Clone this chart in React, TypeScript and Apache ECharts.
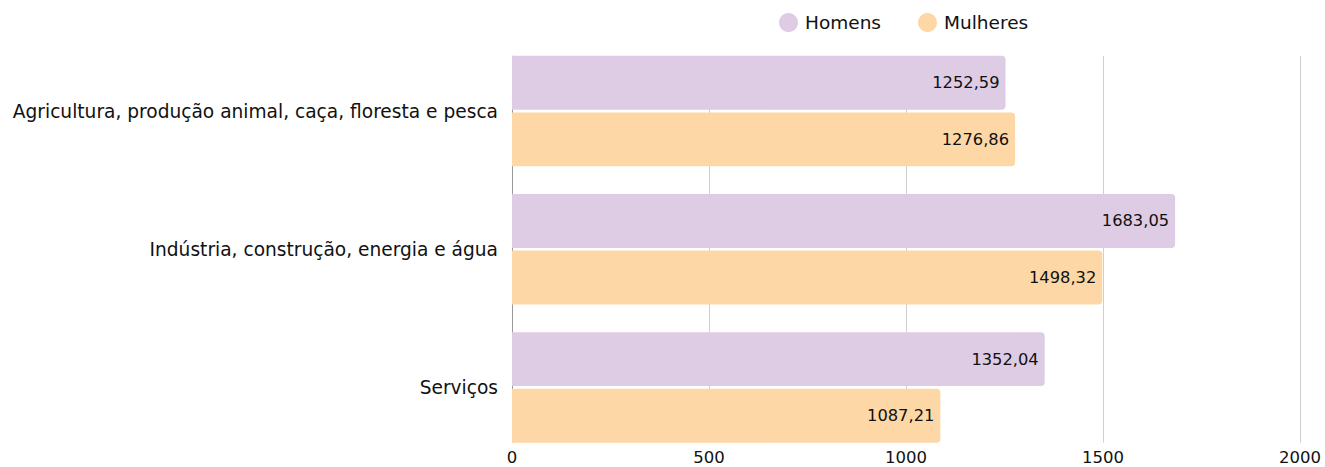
import React, { useEffect, useRef } from "react";
import * as echarts from "echarts";

const categories = [
  "Agricultura, produção animal, caça, floresta e pesca",
  "Indústria, construção, energia e água",
  "Serviços",
];
const homens = [1252.59, 1683.05, 1352.04];
const mulheres = [1276.86, 1498.32, 1087.21];
const xTicks = [0, 500, 1000, 1500, 2000];

const FONT = "DejaVu Sans";
const fmt = (v: number) => v.toFixed(2).replace(".", ",");

export default function App() {
  const ref = useRef<HTMLDivElement>(null);
  useEffect(() => {
    const chart = echarts.init(ref.current!, null, { renderer: "svg" });
    const valueLabel = {
      show: true,
      position: "insideRight",
      distance: 6,
      formatter: (p: any) => fmt(p.value),
      fontFamily: FONT,
      fontSize: 16.3,
      color: "#111",
    };
    chart.setOption({
      animation: false,
      textStyle: { fontFamily: FONT },
      legend: {
        top: 8,
        left: 774,
        icon: "circle",
        itemWidth: 19,
        itemHeight: 19,
        itemGap: 37,
        textStyle: { fontFamily: FONT, fontSize: 18.5, color: "#111", padding: [0, 0, 0, 2] },
        data: ["Homens", "Mulheres"],
      },
      grid: {
        left: 512,
        right: 25,
        top: 42,
        bottom: 10.5,
        containLabel: false,
        outerBoundsMode: "none",
      },
      xAxis: {
        type: "value",
        min: xTicks[0],
        max: xTicks[xTicks.length - 1],
        interval: 500,
        axisLine: { show: false },
        axisTick: { show: false },
        axisLabel: {
          fontFamily: FONT,
          fontSize: 16.5,
          lineHeight: 13,
          color: "#111",
          margin: -5.5,
          formatter: (v: number) => String(v),
        },
        splitLine: { show: false },
      },
      yAxis: {
        type: "category",
        inverse: true,
        data: categories,
        axisLine: { show: false },
        axisTick: { show: false },
        axisLabel: { fontFamily: FONT, fontSize: 18.6, color: "#111", margin: 14 },
      },
      series: [
        {
          type: "custom",
          silent: true,
          z: 1,
          data: xTicks.map((v) => [v, 0]),
          encode: { x: 0, y: 1 },
          renderItem: (params: any, api: any) => {
            const v = api.value(0);
            const x = api.coord([v, 0])[0];
            const band = api.size([0, 1])[1];
            const yTop = api.coord([0, 0])[1] - 0.4 * band;
            const yBot = api.coord([0, categories.length - 1])[1] + 0.4 * band;
            return {
              type: "line",
              shape: { x1: Math.round(x) + 0.5, y1: yTop, x2: Math.round(x) + 0.5, y2: yBot },
              style: { stroke: v === 0 ? "#999999" : "#cfcfcf", lineWidth: 1 },
            };
          },
        },
        {
          name: "Homens",
          type: "bar",
          data: homens,
          z: 2,
          barCategoryGap: "20%",
          barGap: "5%",
          itemStyle: { color: "#DDCCE4", borderRadius: [0, 4, 4, 0] },
          label: valueLabel,
        },
        {
          name: "Mulheres",
          type: "bar",
          data: mulheres,
          z: 2,
          barCategoryGap: "20%",
          barGap: "5%",
          itemStyle: { color: "#FDD8A6", borderRadius: [0, 4, 4, 0] },
          label: valueLabel,
        },
      ],
    });
    return () => chart.dispose();
  }, []);
  return <div ref={ref} style={{ width: 1325, height: 467, position: "absolute", left: 0, top: 0 }} />;
}
